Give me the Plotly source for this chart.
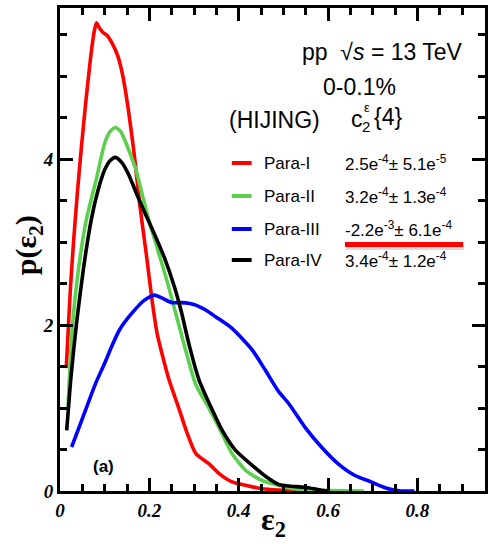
import plotly.graph_objects as go

# ---- eccentricity distributions p(eps_2) for four parameter sets ----
eps_para1 = [0.014, 0.018, 0.024, 0.031, 0.039, 0.048, 0.058, 0.068, 0.076, 0.0815,
             0.088, 0.095, 0.105, 0.118, 0.130, 0.141, 0.152, 0.163, 0.170, 0.178,
             0.193, 0.207, 0.218, 0.228, 0.244, 0.267, 0.285, 0.304, 0.333, 0.356,
             0.385, 0.415, 0.450, 0.490, 0.530]
p_para1 = [1.48, 1.90, 2.50, 3.05, 3.60, 4.15, 4.70, 5.20, 5.52, 5.64,
           5.58, 5.53, 5.49, 5.38, 5.23, 4.99, 4.63, 4.19, 3.87, 3.47,
           2.86, 2.26, 1.88, 1.66, 1.34, 0.98, 0.69, 0.45, 0.33, 0.21,
           0.11, 0.07, 0.03, 0.01, 0.0]

eps_para2 = [0.018, 0.028, 0.041, 0.059, 0.081, 0.100, 0.112, 0.124, 0.136, 0.148,
             0.160, 0.170, 0.185, 0.200, 0.218, 0.240, 0.259, 0.278, 0.304, 0.333,
             0.359, 0.385, 0.415, 0.437, 0.455, 0.480, 0.510, 0.550, 0.600, 0.680]
p_para2 = [1.02, 2.00, 2.66, 3.27, 3.75, 4.19, 4.33, 4.38, 4.33, 4.19,
           4.02, 3.87, 3.55, 3.24, 2.92, 2.52, 2.14, 1.76, 1.28, 1.00,
           0.73, 0.45, 0.25, 0.17, 0.12, 0.08, 0.04, 0.01, 0.005, 0.0]

eps_para3 = [0.026, 0.045, 0.063, 0.080, 0.100, 0.118, 0.133, 0.159, 0.189, 0.211,
             0.230, 0.250, 0.270, 0.290, 0.304, 0.326, 0.348, 0.385, 0.430, 0.459,
             0.489, 0.511, 0.548, 0.585, 0.622, 0.659, 0.696, 0.733, 0.763, 0.793]
p_para3 = [0.53, 0.80, 1.06, 1.30, 1.54, 1.77, 1.94, 2.13, 2.30, 2.36,
           2.32, 2.27, 2.27, 2.26, 2.24, 2.18, 2.10, 1.96, 1.70, 1.46,
           1.20, 1.06, 0.77, 0.53, 0.33, 0.19, 0.11, 0.03, 0.0, 0.0]

eps_para4 = [0.015, 0.025, 0.037, 0.052, 0.070, 0.085, 0.100, 0.112, 0.124, 0.138,
             0.153, 0.170, 0.190, 0.211, 0.233, 0.256, 0.272, 0.289, 0.311, 0.337,
             0.363, 0.393, 0.430, 0.467, 0.489, 0.511, 0.548, 0.585, 0.600]
p_para4 = [0.73, 1.40, 2.02, 2.66, 3.27, 3.62, 3.87, 3.98, 4.02, 3.96,
           3.82, 3.60, 3.35, 3.10, 2.82, 2.46, 2.15, 1.76, 1.34, 1.02,
           0.73, 0.49, 0.31, 0.15, 0.08, 0.06, 0.045, 0.01, 0.0]

series_names = ["Para-I", "Para-II", "Para-III", "Para-IV"]
series_colors = ["#ff0000", "#5ccf4f", "#0000ff", "#000000"]
c24_values = [
    "2.5e<sup>-4</sup>± 5.1e<sup>-5</sup>",
    "3.2e<sup>-4</sup>± 1.3e<sup>-4</sup>",
    "-2.2e<sup>-3</sup>± 6.1e<sup>-4</sup>",
    "3.4e<sup>-4</sup>± 1.2e<sup>-4</sup>",
]
series_eps = [eps_para1, eps_para2, eps_para3, eps_para4]
series_p = [p_para1, p_para2, p_para3, p_para4]

x_tick_vals = [0, 0.2, 0.4, 0.6, 0.8]
x_tick_text = ["0", "0.2", "0.4", "0.6", "0.8"]
y_tick_vals = [0, 2, 4]
y_tick_text = ["0", "2", "4"]

# ---- canvas geometry (pixels) ----
W, H = 488, 544
ML, MR, MT, MB = 60, 0, 8, 53
PW, PH = W - ML - MR, H - MT - MB
X_MAX = PW / 450.0
Y_MAX = PH / 83.0


def px(xp):
    return (xp - ML) / PW


def py(yp):
    return (H - MB - yp) / PH


SANS = "Liberation Sans, Arial, sans-serif"
SERIF = "Liberation Serif, Times New Roman, serif"

fig = go.Figure()
for name, col, xs, ys in zip(series_names, series_colors, series_eps, series_p):
    fig.add_trace(go.Scatter(
        x=xs, y=ys, mode="lines", name=name,
        line=dict(color=col, width=3.6, shape="spline", smoothing=0.6),
        showlegend=False,
    ))

axis_common = dict(
    showline=True, linecolor="black", linewidth=3,
    mirror="ticks", ticks="inside", tickcolor="black",
    tickwidth=3, ticklen=13, showgrid=False, zeroline=False,
    tickfont=dict(family=SERIF, size=19, color="black",
                  weight="bold", style="italic"),
)
fig.update_xaxes(
    range=[0, X_MAX], tickvals=x_tick_vals, ticktext=x_tick_text,
    minor=dict(ticks="inside", ticklen=7, tickwidth=2.5, tickcolor="black",
               dtick=0.05, tick0=0),
    **axis_common,
)
fig.update_yaxes(
    range=[0, Y_MAX], tickvals=y_tick_vals, ticktext=y_tick_text,
    minor=dict(ticks="inside", ticklen=7, tickwidth=2.5, tickcolor="black",
               dtick=0.5, tick0=0),
    **axis_common,
)

ann = []


def text(x, y, s, size, family=SANS, **kw):
    ann.append(dict(x=px(x), y=py(y), xref="paper", yref="paper", text=s,
                    showarrow=False, font=dict(family=family, size=size, color="black"),
                    xanchor=kw.pop("xanchor", "center"), yanchor=kw.pop("yanchor", "middle"),
                    **kw))


# header block
text(385, 52, "pp  √<i>s</i> = 13 TeV", 23)
text(362, 87, "0-0.1%", 23)
text(276, 120, "(HIJING)", 23)
text(359, 119, "c", 23)
text(369, 107, "ε", 13)
text(368, 126, "2", 15)
text(390, 117, "{4}", 23)

# legend rows
row_y = [163, 196, 229, 260]
shapes = []
for name, col, val, yy in zip(series_names, series_colors, c24_values, row_y):
    shapes.append(dict(type="line", xref="paper", yref="paper",
                       x0=px(233), x1=px(253), y0=py(yy), y1=py(yy),
                       line=dict(color=col, width=4)))
    text(263, yy, name, 17, xanchor="left")
    text(345, yy, val, 17, xanchor="left")

# highlight under the Para-III value
shapes.append(dict(type="line", xref="paper", yref="paper",
                   x0=px(348), x1=px(467), y0=py(247.5), y1=py(247.5),
                   line=dict(color="rgba(0,0,0,0.15)", width=5)))
shapes.append(dict(type="line", xref="paper", yref="paper",
                   x0=px(347), x1=px(466), y0=py(244.5), y1=py(244.5),
                   line=dict(color="#ff0000", width=5)))

# panel label
text(104, 466, "<b>(a)</b>", 17)

# axis titles
text(275, 521, "<b>ε<sub>2</sub></b>", 32, family=SERIF)
text(28, 245, "<b>p(ε<sub>2</sub>)</b>", 30, family=SERIF, textangle=-90)

fig.update_layout(
    width=W, height=H,
    margin=dict(l=ML, r=MR, t=MT, b=MB),
    paper_bgcolor="white", plot_bgcolor="white",
    annotations=ann, shapes=shapes,
)

fig.write_html("out.html")
